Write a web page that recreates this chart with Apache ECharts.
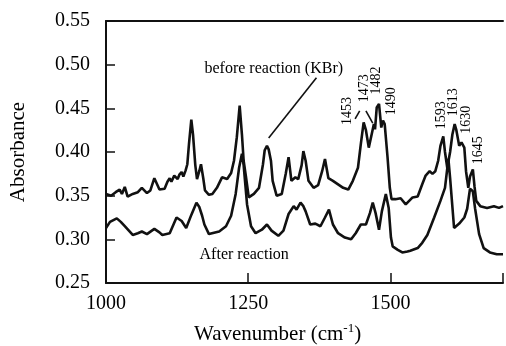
<!DOCTYPE html>
<html>
<head>
<meta charset="utf-8">
<script src="https://cdn.jsdelivr.net/npm/echarts@6/dist/echarts.min.js"></script>
<style>
  html, body { margin: 0; padding: 0; background: #fff; }
  #chart { width: 506px; height: 346px; }
</style>
</head>
<body>
<div id="chart"></div>
<script>
// IR spectra: wavenumber (cm-1) vs absorbance
const beforeWavenumber = [1000,1009,1017,1024,1028,1033,1038,1047,1056,1063,1072,1078,1085,1094,1103,1108,1112,1115,1120,1126,1129,1133,1136,1140,1143,1146,1150,1153,1157,1160,1164,1167,1171,1174,1181,1187,1195,1204,1213,1220,1225,1230,1235,1239,1242,1246,1251,1260,1269,1276,1279,1283,1286,1290,1293,1300,1309,1316,1321,1326,1333,1338,1344,1347,1351,1356,1365,1373,1380,1385,1391,1399,1408,1417,1426,1434,1443,1448,1453,1457,1462,1466,1471,1473,1476,1480,1482,1484,1487,1490,1495,1499,1502,1509,1518,1527,1530,1539,1548,1556,1562,1569,1574,1579,1584,1588,1593,1596,1600,1605,1609,1613,1616,1621,1625,1630,1633,1637,1640,1645,1648,1651,1658,1670,1682,1691,1698];
const beforeAbsorbance = [0.352,0.350,0.354,0.357,0.352,0.360,0.349,0.352,0.354,0.359,0.353,0.356,0.370,0.357,0.358,0.366,0.370,0.366,0.373,0.369,0.374,0.377,0.372,0.379,0.386,0.410,0.437,0.420,0.385,0.369,0.378,0.386,0.370,0.356,0.351,0.352,0.359,0.371,0.369,0.376,0.390,0.417,0.453,0.420,0.390,0.372,0.348,0.352,0.359,0.386,0.402,0.407,0.403,0.390,0.367,0.350,0.352,0.375,0.394,0.367,0.371,0.369,0.385,0.401,0.390,0.367,0.359,0.362,0.378,0.392,0.370,0.367,0.363,0.359,0.357,0.367,0.382,0.409,0.434,0.425,0.405,0.417,0.432,0.426,0.451,0.455,0.457,0.428,0.436,0.432,0.394,0.359,0.346,0.346,0.347,0.340,0.340,0.348,0.349,0.363,0.373,0.378,0.375,0.378,0.390,0.407,0.418,0.400,0.382,0.400,0.420,0.432,0.425,0.407,0.411,0.405,0.378,0.359,0.372,0.380,0.360,0.344,0.338,0.336,0.338,0.336,0.338];

const afterWavenumber = [1000,1007,1019,1026,1033,1047,1056,1063,1072,1085,1094,1099,1112,1124,1133,1141,1150,1159,1164,1169,1173,1181,1199,1211,1220,1228,1234,1239,1242,1248,1255,1263,1274,1283,1291,1303,1312,1321,1330,1335,1342,1347,1351,1359,1368,1377,1385,1392,1399,1408,1420,1431,1439,1448,1457,1464,1469,1474,1480,1485,1492,1497,1501,1504,1513,1521,1530,1535,1548,1556,1565,1577,1588,1596,1602,1605,1612,1621,1630,1635,1640,1645,1649,1656,1664,1675,1687,1698];
const afterAbsorbance = [0.313,0.320,0.324,0.320,0.315,0.305,0.307,0.309,0.306,0.312,0.308,0.305,0.307,0.325,0.321,0.313,0.328,0.342,0.337,0.327,0.317,0.306,0.309,0.315,0.327,0.352,0.382,0.398,0.385,0.340,0.315,0.307,0.311,0.317,0.310,0.304,0.310,0.329,0.338,0.334,0.342,0.338,0.332,0.317,0.318,0.315,0.325,0.334,0.317,0.307,0.302,0.300,0.307,0.317,0.317,0.330,0.342,0.330,0.311,0.332,0.352,0.336,0.302,0.292,0.288,0.285,0.286,0.287,0.290,0.296,0.305,0.325,0.344,0.359,0.392,0.370,0.313,0.318,0.325,0.335,0.358,0.355,0.335,0.306,0.290,0.285,0.283,0.283];

// peak assignments written above the "before" spectrum
const peakLabels = ['1453','1473','1482','1490','1593','1613','1630','1645'];
const peakLabelAt = [[1424,0.447],[1454,0.473],[1476,0.482],[1501,0.458],[1590,0.442],[1611,0.457],[1633,0.437],[1654,0.402]];

const xTicks = [1000, 1250, 1500];
const yTicks = [0.25, 0.30, 0.35, 0.40, 0.45, 0.50, 0.55];

const toPairs = (xs, ys) => xs.map((x, i) => [x, ys[i]]);
const FONT = '"Liberation Serif", "DejaVu Serif", serif';
const INK = '#111';

const chart = echarts.init(document.getElementById('chart'), null, { renderer: 'canvas' });

chart.setOption({
  animation: false,
  backgroundColor: '#fff',
  grid: { left: 106, right: 0, top: 21, bottom: 63, containLabel: false },
  xAxis: [{
    type: 'value',
    min: 1000, max: 1698, interval: 250,
    axisLine: { show: true, lineStyle: { color: INK, width: 2 } },
    axisTick: { show: true, inside: true, length: 10, lineStyle: { color: INK, width: 1.5 } },
    splitLine: { show: false },
    axisLabel: {
      margin: 11, color: '#000', fontFamily: FONT, fontSize: 20,
      formatter: v => xTicks.includes(v) ? String(v) : ''
    }
  }, {
    type: 'value', position: 'top',
    min: 1000, max: 1698,
    axisLine: { show: true, onZero: false, lineStyle: { color: INK, width: 2 } },
    axisTick: { show: false }, axisLabel: { show: false }, splitLine: { show: false }
  }],
  yAxis: {
    type: 'value',
    min: 0.25, max: 0.55, interval: 0.05,
    axisLine: { show: true, lineStyle: { color: INK, width: 2 } },
    axisTick: { show: true, inside: true, length: 9, lineStyle: { color: INK, width: 1.5 } },
    splitLine: { show: false },
    axisLabel: {
      margin: 16, color: '#000', fontFamily: FONT, fontSize: 20,
      formatter: v => yTicks.some(t => Math.abs(t - v) < 1e-9) ? v.toFixed(2) : ''
    },
    name: 'Absorbance',
    nameLocation: 'middle',
    nameGap: 77,
    nameTextStyle: { color: '#000', fontFamily: FONT, fontSize: 21 }
  },
  series: [{
    name: 'before reaction (KBr)',
    type: 'line',
    data: toPairs(beforeWavenumber, beforeAbsorbance),
    showSymbol: false,
    lineStyle: { color: INK, width: 2.6 },
    markPoint: {
      symbol: 'circle', symbolSize: 0,
      silent: true,
      data: peakLabels.map((t, i) => ({
        coord: peakLabelAt[i],
        label: {
          show: true, formatter: t, rotate: 90, position: 'inside',
          color: '#000', fontFamily: FONT, fontSize: 14
        }
      })).concat([{
        coord: [1295, 0.4956],
        label: {
          show: true, formatter: 'before reaction (KBr)', position: 'inside',
          color: '#000', fontFamily: FONT, fontSize: 16
        }
      }])
    },
    markLine: {
      silent: true, symbol: 'none',
      lineStyle: { color: INK, width: 1.6, type: 'solid' },
      label: { show: false },
      data: [
        [{ coord: [1370, 0.485] }, { coord: [1286, 0.416] }],
        [{ coord: [1438, 0.438] }, { coord: [1446, 0.447] }],
        [{ coord: [1457, 0.447] }, { coord: [1469, 0.433] }]
      ]
    }
  }, {
    name: 'After reaction',
    type: 'line',
    data: toPairs(afterWavenumber, afterAbsorbance),
    showSymbol: false,
    lineStyle: { color: INK, width: 2.6 },
    markPoint: {
      symbol: 'circle', symbolSize: 0, silent: true,
      data: [{
        coord: [1243, 0.282],
        label: {
          show: true, formatter: 'After reaction', position: 'inside',
          color: '#000', fontFamily: FONT, fontSize: 16
        }
      }]
    }
  }],
  graphic: [{
    type: 'text',
    left: 194, top: 322,
    style: {
      text: '{a|Wavenumber (cm}{s|-1}{a|)}',
      rich: {
        a: { fontFamily: FONT, fontSize: 21, fill: '#000', lineHeight: 26 },
        s: { fontFamily: FONT, fontSize: 13, fill: '#000', lineHeight: 26, padding: [0, 0, 12, 0] }
      }
    }
  }]
});
</script>
</body>
</html>
